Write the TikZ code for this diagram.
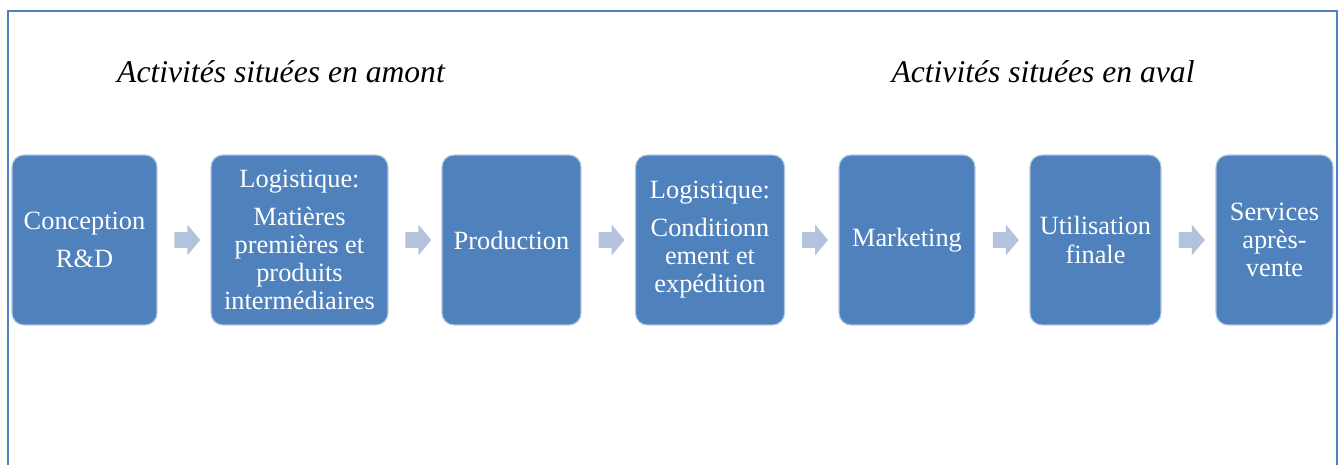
\documentclass[tikz,border=0pt]{standalone}
\usepackage{fontspec}
\setmainfont{Liberation Serif}
\usetikzlibrary{shapes.arrows,calc}
\definecolor{boxblue}{HTML}{4F81BD}
\definecolor{arrowblue}{HTML}{B3C3DD}
\begin{document}
\begin{tikzpicture}[x=0.02cm,y=-0.02cm,
  etape/.style={rounded corners=6.8pt, fill=boxblue, draw=boxblue!45!white, line width=0.6pt,
    text=white, align=center, minimum height=3.4cm, inner sep=2pt,
    font=\fontsize{15}{16}\selectfont},
  fleche/.style={single arrow, fill=arrowblue, inner xsep=0pt, inner ysep=0.15cm,
    single arrow head extend=0.15cm, single arrow tip angle=100, minimum height=0.52cm},
  titre/.style={font=\fontsize{18}{20}\selectfont\itshape}]
\useasboundingbox (0,0) rectangle (1340,464);
\draw[boxblue, line width=1.2pt] (8,470)--(8,11)--(1337,11)--(1337,470);

\node[titre] (amont) at (281,72) {Activités situées en amont};
\node[titre] (aval) at (1043,72) {Activités situées en aval};

\node[etape, minimum width=2.9cm] (conc) at (84.5,240) {Conception\\[5.5pt]R\&D};
\node[etape, minimum width=3.54cm] (logi) at (299.5,240) {Logistique:\\[5.5pt]Matières\\premières et\\produits\\intermédiaires};
\node[etape, minimum width=2.78cm] (prod) at (511.5,240) {Production};
\node[etape, minimum width=2.98cm] (cond) at (710,240) {Logistique:\\[5.5pt]Conditionn\\ement et\\expédition};
\node[etape, minimum width=2.72cm] (mark) at (907,240) {Marketing};
\node[etape, minimum width=2.62cm] (util) at (1095.5,240) {Utilisation\\finale};
\node[etape, minimum width=2.34cm] (serv) at (1274.5,240) {Services\\après-\\vente};

\foreach \a/\b in {conc/logi,logi/prod,prod/cond,cond/mark,mark/util,util/serv}
{
    \node[fleche] (f-\a) at ($(\a.east)!0.5!(\b.west)$) {};
}
\end{tikzpicture}
\end{document}
